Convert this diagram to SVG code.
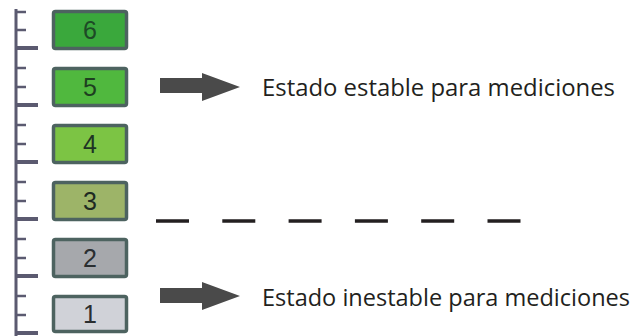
<svg xmlns="http://www.w3.org/2000/svg" width="640" height="336" viewBox="0 0 640 336">
<style>
.box{stroke:#4d6360;stroke-width:3.5}
.num{font-family:"Liberation Sans",Arial,sans-serif;font-size:25px;text-anchor:middle}
.lbl{font-family:"Open Sans","Noto Sans",sans-serif;font-size:24px;fill:#231f20}
.tick{stroke:#5b5a70;stroke-width:2.5}
.ltick{stroke:#5b5a70;stroke-width:4}
.arrow{fill:#4a4a4a}
.dash{stroke:#231f20;stroke-width:3.5;stroke-dasharray:33 33.3}
</style>
<rect width="640" height="336" fill="#ffffff"/>
<g id="ruler">
<line x1="16" y1="9" x2="16" y2="336" stroke="#5b5a70" stroke-width="3"/>
<line class="tick" x1="16" y1="12" x2="26" y2="12"/><line class="tick" x1="16" y1="30" x2="26" y2="30"/><line class="ltick" x1="16" y1="48" x2="38" y2="48"/>
<line class="tick" x1="16" y1="68" x2="26" y2="68"/><line class="tick" x1="16" y1="87" x2="26" y2="87"/><line class="ltick" x1="16" y1="105" x2="38" y2="105"/>
<line class="tick" x1="16" y1="125" x2="26" y2="125"/><line class="tick" x1="16" y1="144" x2="26" y2="144"/><line class="ltick" x1="16" y1="162" x2="38" y2="162"/>
<line class="tick" x1="16" y1="182" x2="26" y2="182"/><line class="tick" x1="16" y1="201" x2="26" y2="201"/><line class="ltick" x1="16" y1="219" x2="38" y2="219"/>
<line class="tick" x1="16" y1="239" x2="26" y2="239"/><line class="tick" x1="16" y1="258" x2="26" y2="258"/><line class="ltick" x1="16" y1="276" x2="38" y2="276"/>
<line class="tick" x1="16" y1="296" x2="26" y2="296"/><line class="tick" x1="16" y1="315" x2="26" y2="315"/><line class="ltick" x1="16" y1="333" x2="38" y2="333"/>
</g>
<g id="level6"><rect class="box" x="53.5" y="11.5" width="73" height="37" rx="2" fill="#3aa83c"/><text class="num" x="90" y="39" fill="#1d4a26">6</text></g>
<g id="level5"><rect class="box" x="53.5" y="68.5" width="73" height="37" rx="2" fill="#50b83e"/><text class="num" x="90" y="96" fill="#1e3f20">5</text></g>
<g id="level4"><rect class="box" x="53.5" y="125.5" width="73" height="37" rx="2" fill="#7cc444"/><text class="num" x="90" y="153" fill="#1e3424">4</text></g>
<g id="level3"><rect class="box" x="53.5" y="182.5" width="73" height="37" rx="2" fill="#9db468"/><text class="num" x="90" y="210" fill="#1e2a22">3</text></g>
<g id="level2"><rect class="box" x="53.5" y="239.5" width="73" height="37" rx="2" fill="#a6a8ac"/><text class="num" x="90" y="267" fill="#2a2e30">2</text></g>
<g id="level1"><rect class="box" x="53.5" y="296.5" width="73" height="35" rx="2" fill="#d0d2d8"/><text class="num" x="90" y="323" fill="#2a2e30">1</text></g>
<g id="connectors">
<polygon class="arrow" points="160,78 202,78 202,73 240,87 202,101 202,93 160,93"/>
<polygon class="arrow" points="160,288 202,288 202,282 240,296 202,310 202,303 160,303"/>
<line class="dash" x1="156" y1="221" x2="521" y2="221"/>
</g>
<g id="label-stable"><text class="lbl" x="262" y="96" textLength="353" lengthAdjust="spacingAndGlyphs">Estado estable para mediciones</text></g>
<g id="label-unstable"><text class="lbl" x="262" y="306" textLength="368" lengthAdjust="spacingAndGlyphs">Estado inestable para mediciones</text></g>
</svg>
